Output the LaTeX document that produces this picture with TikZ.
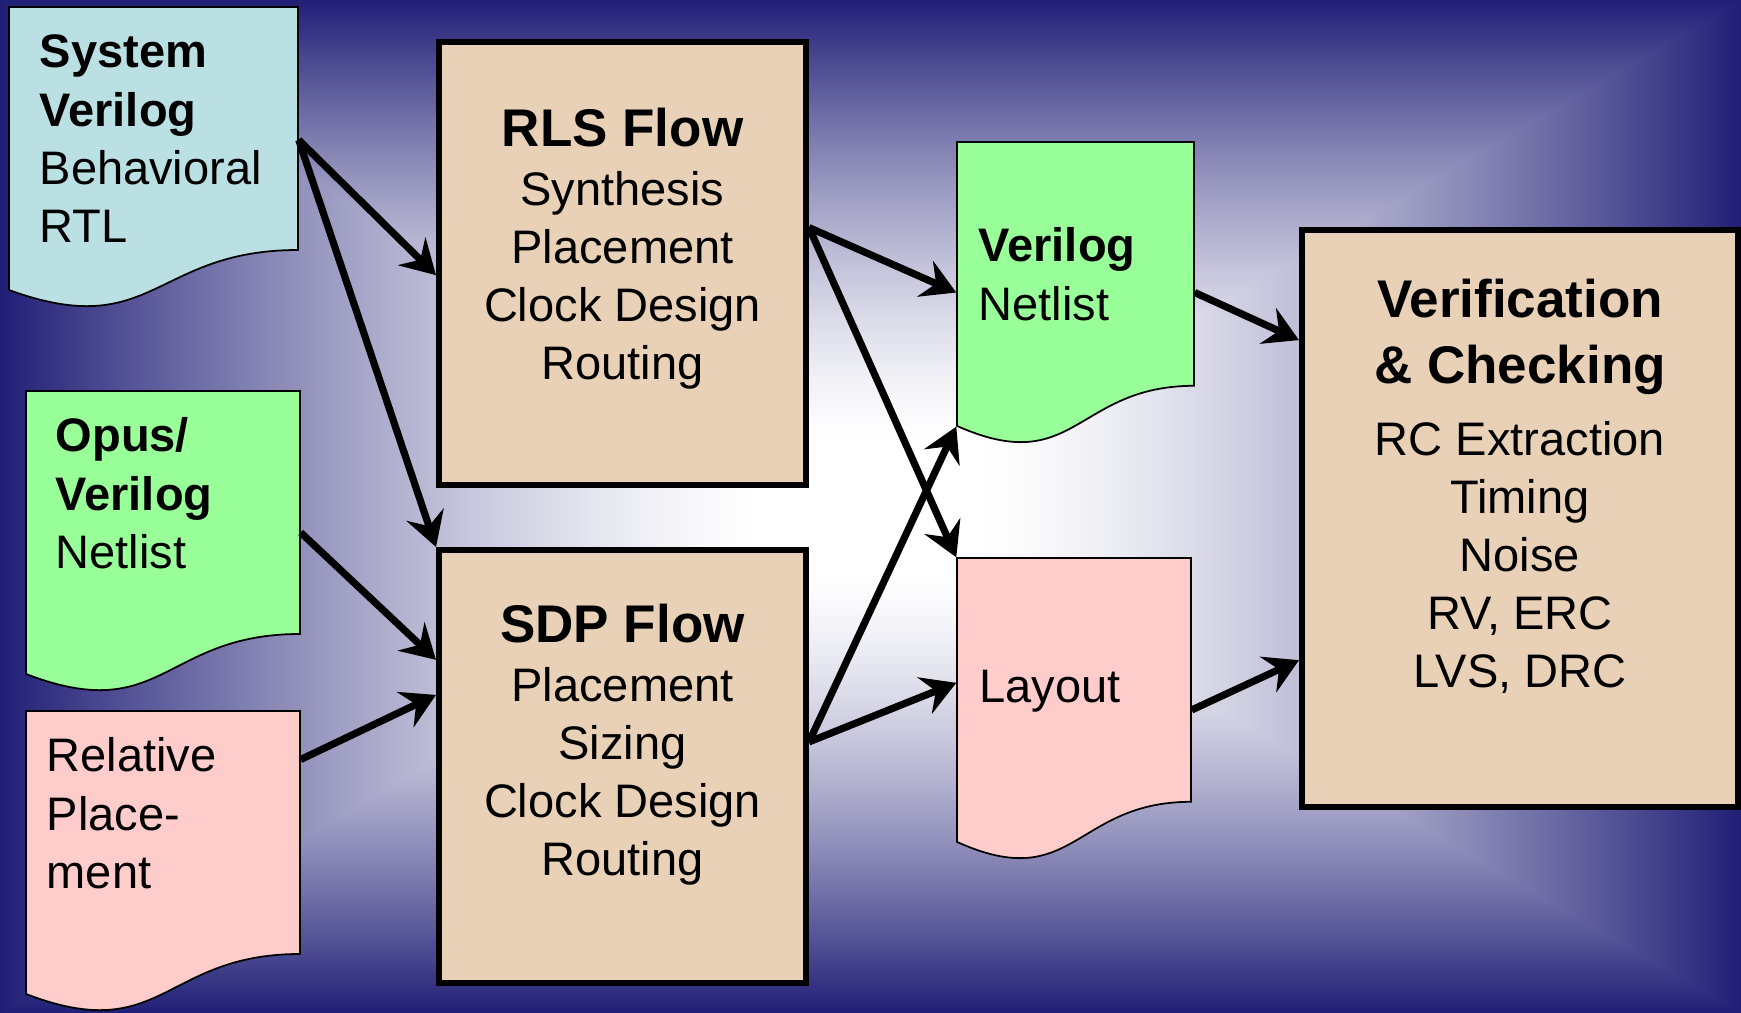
\documentclass[tikz,border=0pt]{standalone}
\usepackage{fontspec}
\setmainfont{Liberation Sans}
\usetikzlibrary{arrows.meta,calc,fit}

\definecolor{boxtan}{RGB}{232,209,182}
\definecolor{docblue}{RGB}{187,224,227}
\definecolor{docgreen}{RGB}{153,255,153}
\definecolor{docpink}{RGB}{255,204,204}

% Rectangular glow: white in the middle, fading to navy towards every edge
\pgfdeclarefunctionalshading{bgglow}{\pgfpoint{0bp}{0bp}}{\pgfpoint{100bp}{100bp}}{}{
  50 sub abs 25 div
  exch 50 sub abs 25 div
  2 copy lt {exch} if pop
  0.12 sub 0.88 div
  dup 0 lt {pop 0} if
  dup 1 gt {pop 1} if
  1.45 exp
  dup 0.875 mul 1 exch sub exch
  dup 0.882 mul 1 exch sub exch
  0.537 mul 1 exch sub
}

\newcommand{\bodyfont}{\fontsize{13.37pt}{16.5pt}\selectfont}
\newcommand{\headfont}{\fontsize{15.08pt}{18.5pt}\selectfont\bfseries}

% Document sheet with a wavy lower edge: node name, left, top, right, height, fill
\newcommand{\docshape}[6]{%
  \path[docline, fill=#6]
    (#2,#3) -- (#4,#3) -- (#4,{#3+0.802*#5})
    .. controls ({(#2+#4)/2},{#3+0.802*#5}) and ({(#2+#4)/2},{#3+1.1075*#5})
    .. (#2,{#3+0.934*#5}) -- cycle;
  \node[fit={(#2,#3) (#4,{#3+0.934*#5})}, inner sep=0pt] (#1) {};
}

\begin{document}
\begin{tikzpicture}[x=0.01cm, y=-0.01cm,
  docline/.style={draw=black, line width=0.5pt},
  flowbox/.style={draw=black, line width=0.06cm, fill=boxtan, inner sep=0pt},
  txt/.style={inner sep=0pt, font=\bodyfont},
  flow/.style={line width=0.072cm, -{Stealth[length=0.34cm, width=0.39cm, inset=0.12cm]}}]

\useasboundingbox (0,0) rectangle (1741,1013);
\shade[shading=bgglow] (0,0) rectangle (1741,1013);

% input and output documents
\docshape{sv}{9}{7}{298}{303}{docblue}
\docshape{opus}{26}{391}{300}{303}{docgreen}
\docshape{relpl}{26}{711}{300}{303}{docpink}
\docshape{vnet}{957}{142}{1194}{304}{docgreen}
\docshape{lay}{957}{558}{1191}{304}{docpink}

% tool flows
\node[flowbox, fit={(439,42) (806,485)}] (rls) {};
\node[flowbox, fit={(439,550) (806,983)}] (sdp) {};
\node[flowbox, fit={(1302,230) (1738,807)}] (ver) {};

% labels
\node[txt, anchor=base west] (svText) at (39,68)
  {\begin{tabular}[t]{@{}l@{}}\textbf{System}\\\textbf{Verilog}\\Behavioral\\RTL\end{tabular}};
\node[txt, anchor=base west] (opusText) at (55,452)
  {\begin{tabular}[t]{@{}l@{}}\textbf{Opus/}\\\textbf{Verilog}\\Netlist\end{tabular}};
\node[txt, anchor=base west] (relplText) at (46,772)
  {\begin{tabular}[t]{@{}l@{}}Relative\\Place-\\ment\end{tabular}};
\node[txt, anchor=base west] (vnetText) at (978,262)
  {\begin{tabular}[t]{@{}l@{}}\textbf{Verilog}\\Netlist\end{tabular}};
\node[txt, anchor=base west] (layText) at (979,703) {Layout};

\node[txt, anchor=base] (rlsText) at (622.5,147)
  {\begin{tabular}[t]{@{}c@{}}{\headfont RLS Flow}\\Synthesis\\Placement\\Clock Design\\Routing\end{tabular}};
\node[txt, anchor=base] (sdpText) at (622.5,643)
  {\begin{tabular}[t]{@{}c@{}}{\headfont SDP Flow}\\Placement\\Sizing\\Clock Design\\Routing\end{tabular}};
\node[txt, anchor=base] (verText) at (1520,318)
  {\begin{tabular}[t]{@{}c@{}}{\headfont Verification}\\[0.07cm]{\headfont \& Checking}\\[0.14cm]RC Extraction\\Timing\\Noise\\RV, ERC\\LVS, DRC\end{tabular}};

% connectors
\draw[flow] ($(sv.north east)!0.47!(sv.south east)$) -- ($(rls.north west)!0.526!(rls.south west)$);
\draw[flow] ($(sv.north east)!0.47!(sv.south east)$) -- (sdp.north west);
\draw[flow] ($(opus.north east)!0.50!(opus.south east)$) -- ($(sdp.north west)!0.257!(sdp.south west)$);
\draw[flow] ($(relpl.north east)!0.173!(relpl.south east)$) -- ($(sdp.north west)!0.337!(sdp.south west)$);
\draw[flow] ($(rls.north east)!0.42!(rls.south east)$) -- ($(vnet.north west)!0.53!(vnet.south west)$);
\draw[flow] ($(rls.north east)!0.42!(rls.south east)$) -- (lay.north west);
\draw[flow] ($(sdp.north east)!0.444!(sdp.south east)$) -- (vnet.south west);
\draw[flow] ($(sdp.north east)!0.444!(sdp.south east)$) -- ($(lay.north west)!0.44!(lay.south west)$);
\draw[flow] ($(vnet.north east)!0.53!(vnet.south east)$) -- ($(ver.north west)!0.194!(ver.south west)$);
\draw[flow] ($(lay.north east)!0.535!(lay.south east)$) -- ($(ver.north west)!0.743!(ver.south west)$);
\end{tikzpicture}
\end{document}
